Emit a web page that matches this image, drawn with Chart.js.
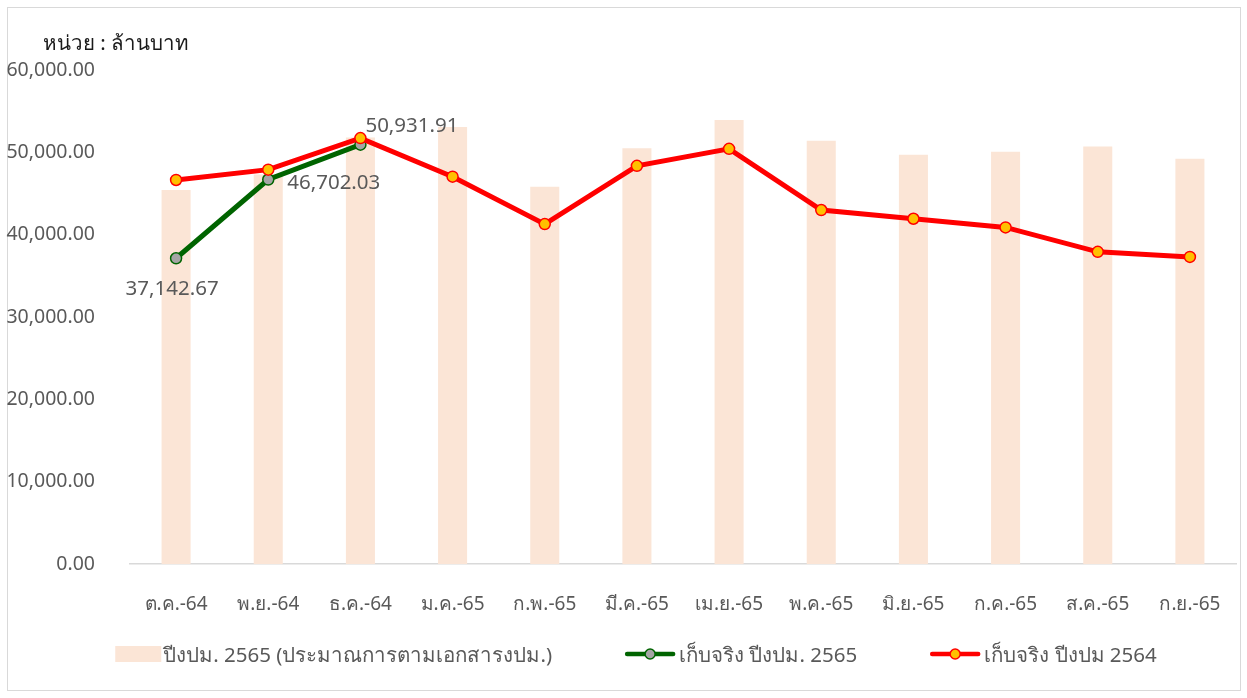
<html>
<head>
<meta charset="utf-8">
<title>chart</title>
<script src="https://cdn.jsdelivr.net/npm/chart.js"></script>
<style>
  body { margin: 0; background: #fff; }
  #frame {
    position: absolute; left: 7px; top: 7px;
    width: 1232px; height: 682px;
    border: 1px solid #D9D9D9;
  }
  #wrap { position: absolute; left: 0; top: 0; width: 1247px; height: 698px; }
</style>
</head>
<body>
<div id="frame"></div>
<div id="wrap"><canvas id="myChart"></canvas></div>

<script>
// categories (Thai fiscal year months)
const months = ['ต.ค.-64', 'พ.ย.-64', 'ธ.ค.-64', 'ม.ค.-65', 'ก.พ.-65', 'มี.ค.-65',
                'เม.ย.-65', 'พ.ค.-65', 'มิ.ย.-65', 'ก.ค.-65', 'ส.ค.-65', 'ก.ย.-65'];
// budget estimate 2565 (bars)
const estimate2565 = [45430, 47300, 51800, 53070, 45830, 50510, 53920, 51400, 49700, 50060, 50710, 49210];
// actual 2565 (green)
const actual2565 = [37142.67, 46702.03, 50931.91, null, null, null, null, null, null, null, null, null];
// actual 2564 (red)
const actual2564 = [46650, 47900, 51730, 47050, 41290, 48360, 50430, 43000, 41940, 40890, 37920, 37310];

const seriesNames = ['ปีงปม. 2565 (ประมาณการตามเอกสารงปม.)', 'เก็บจริง ปีงปม. 2565', 'เก็บจริง ปีงปม 2564'];
const yTicks = [0, 10000, 20000, 30000, 40000, 50000, 60000];
const unitTitle = 'หน่วย : ล้านบาท';

const FONT = "'Noto Sans', 'Open Sans', sans-serif";
const GREY = '#595959';
const BAR_COLOR = '#FBE5D6';
const GREEN = '#006400';
const RED = '#FF0000';

function fmt(v) {
  return v.toLocaleString('en-US', {minimumFractionDigits: 2, maximumFractionDigits: 2});
}

// unit title, value labels on the green series, and the legend row
const extraText = {
  id: 'extraText',
  afterDatasetsDraw(chart) {
    let ctx = chart.ctx;
    ctx.save();
    ctx.textBaseline = 'middle';
    ctx.textAlign = 'left';
    ctx.font = '20.5px ' + FONT;
    ctx.fillStyle = '#1a1a1a';
    ctx.fillText(unitTitle, 43, 44);

    // green value labels
    let meta = chart.getDatasetMeta(1);
    ctx.font = '20.5px ' + FONT;
    ctx.fillStyle = GREY;
    meta.data.forEach(function(pt, i) {
      let v = actual2565[i];
      if (v == null) return;
      let s = fmt(v);
      if (i == 0) {
        ctx.textAlign = 'center';
        ctx.fillText(s, pt.x - 4, pt.y + 31);
      } else if (i == 1) {
        ctx.textAlign = 'left';
        ctx.fillText(s, pt.x + 19, pt.y + 4);
      } else {
        ctx.textAlign = 'left';
        ctx.fillText(s, pt.x + 5, pt.y - 19);
      }
    });

    // legend
    ctx.font = '20.5px ' + FONT;
    ctx.textAlign = 'left';
    let sw = [46, 50, 50], gapText = [2, 4, 4], gapItem = 73;
    let widths = seriesNames.map(function(t, i) { return sw[i] + gapText[i] + ctx.measureText(t).width; });
    let total = widths.reduce(function(a, b) { return a + b; }, 0) + gapItem * 2;
    let x = 636 - total / 2;
    let y = 654;
    seriesNames.forEach(function(t, i) {
      if (i == 0) {
        ctx.fillStyle = BAR_COLOR;
        ctx.fillRect(x, y - 8, sw[i], 16);
      } else {
        let lc = i == 1 ? GREEN : RED;
        let fc = i == 1 ? '#A5A5A5' : '#FFC000';
        ctx.strokeStyle = lc; ctx.lineWidth = 4.5; ctx.lineCap = 'round';
        ctx.beginPath(); ctx.moveTo(x + 2, y); ctx.lineTo(x + sw[i] - 2, y); ctx.stroke();
        ctx.beginPath(); ctx.arc(x + sw[i] / 2, y, 5, 0, Math.PI * 2);
        ctx.fillStyle = fc; ctx.fill();
        ctx.lineWidth = 1.5; ctx.stroke();
      }
      ctx.fillStyle = GREY;
      ctx.fillText(t, x + sw[i] + gapText[i], y + 2);
      x += widths[i] + gapItem;
    });
    ctx.restore();
  }
};

const ctx = document.getElementById('myChart').getContext('2d');
new Chart(ctx, {
  data: {
    labels: months,
    datasets: [
      {
        type: 'bar', label: seriesNames[0], data: estimate2565,
        backgroundColor: BAR_COLOR, categoryPercentage: 1, barPercentage: 0.315,
        order: 3
      },
      {
        type: 'line', label: seriesNames[1], data: actual2565,
        borderColor: GREEN, borderWidth: 5, tension: 0,
        pointRadius: 5.5, pointBorderWidth: 1.5,
        pointBackgroundColor: '#A5A5A5', pointBorderColor: GREEN,
        order: 2
      },
      {
        type: 'line', label: seriesNames[2], data: actual2564,
        borderColor: RED, borderWidth: 5, tension: 0,
        pointRadius: 5.5, pointBorderWidth: 1.5,
        pointBackgroundColor: '#FFC000', pointBorderColor: RED,
        order: 1
      }
    ]
  },
  options: {
    responsive: true,
    maintainAspectRatio: false,
    animation: false,
    layout: { padding: { left: 0, right: 11, top: 70, bottom: 61 } },
    scales: {
      x: {
        grid: { display: false },
        border: { display: true, color: '#D9D9D9', width: 1.5 },
        ticks: { color: GREY, font: { family: FONT, size: 19 }, padding: 21, maxRotation: 0 }
      },
      y: {
        min: 0, max: 60000,
        grid: { display: false },
        border: { display: false },
        afterBuildTicks: function(scale) {
          scale.ticks = yTicks.map(function(v) { return {value: v}; });
        },
        afterFit: function(scale) { scale.width = 130; },
        ticks: {
          color: GREY, font: { family: FONT, size: 19.5 }, padding: 27,
          callback: function(v) { return fmt(v); }
        }
      }
    },
    plugins: {
      tooltip: { enabled: false },
      title: { display: false },
      legend: { display: false }
    }
  },
  plugins: [extraText]
});
</script>
</body>
</html>
